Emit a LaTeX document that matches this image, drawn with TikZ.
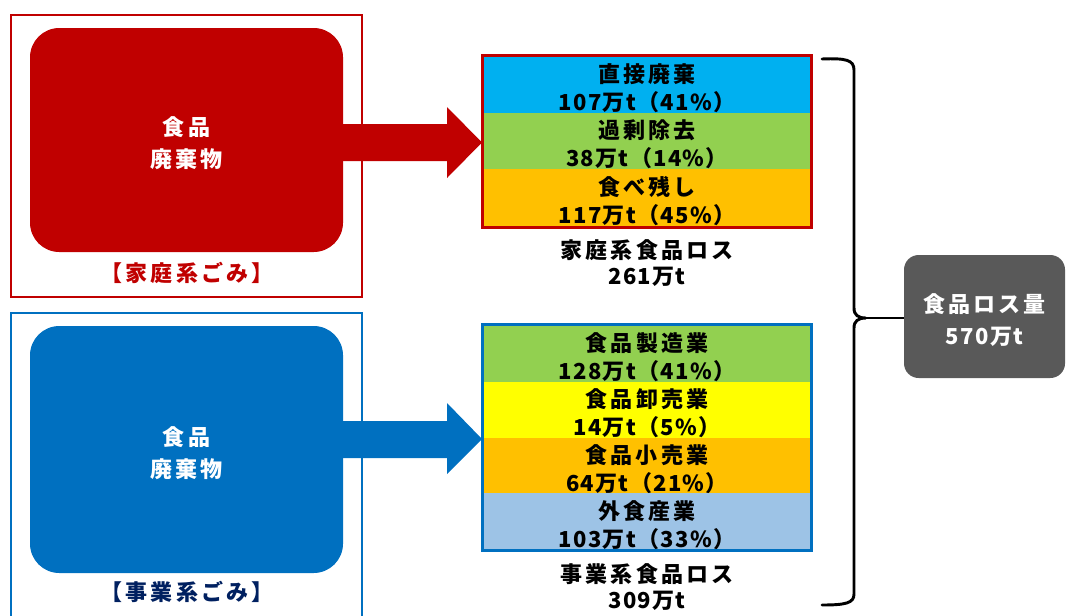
\documentclass[tikz,border=0pt]{standalone}
\usepackage{fontspec}
\newfontfamily\jk{Noto Sans CJK JP}[LetterSpace=14]
\newfontfamily\jn{Noto Sans CJK JP}[LetterSpace=6]
\definecolor{cRed}{HTML}{C00000}
\definecolor{cBlue}{HTML}{0070C0}
\definecolor{cGrey}{HTML}{595959}
\definecolor{cNavy}{HTML}{002060}
\definecolor{cCyan}{HTML}{00B0F0}
\definecolor{cGreen}{HTML}{92D050}
\definecolor{cOrange}{HTML}{FFC000}
\definecolor{cYellow}{HTML}{FFFF00}
\definecolor{cLight}{HTML}{9DC3E6}
\tikzset{
  jtxt/.style={font=\fontsize{16.5pt}{21pt}\selectfont\bfseries, align=center, inner sep=0pt},
  rowtxt/.style={jtxt, text=black, yshift=-2.5pt},
  rowbox/.style={draw=none, minimum width=246pt, inner sep=0pt},
  bigbox/.style={rounded corners=22pt, minimum width=234.75pt, inner sep=0pt},
  bigtxt/.style={jtxt, text=white, font=\fontsize{16.5pt}{24pt}\selectfont\bfseries, yshift=-2.5pt},
  frame/.style={line width=1.9pt},
}
\begin{document}
\begin{tikzpicture}[x=0.75pt,y=-0.75pt]
\useasboundingbox (0,0) rectangle (1066,615);
\clip (0,0) rectangle (1066,615);
% left frames
\draw[frame, cRed] (11,15) rectangle (362,297);
\draw[frame, cBlue] (11,313) rectangle (362,640);
% big boxes
\node[bigbox, fill=cRed, minimum height=168pt, label={[bigtxt]center:{{\jk 食品}\\{\jk 廃棄物}}}] (rb) at (186.5,140) {};
\node[bigbox, fill=cBlue, minimum height=185.25pt, label={[bigtxt]center:{{\jk 食品}\\{\jk 廃棄物}}}] (bb) at (186.5,449.5) {};
\node[jtxt, text=cRed] (rl) at (187,273) {\jk 【家庭系ごみ】};
\node[jtxt, text=cNavy] (bl) at (187,592) {\jk 【事業系ごみ】};
% arrows
\fill[cRed] (343,124) -- (447,124) -- (447,107) -- (482,142.5) -- (447,178) -- (447,161) -- (343,161) -- cycle;
\fill[cBlue] (343,421) -- (447,421) -- (447,403) -- (482,439) -- (447,474) -- (447,458) -- (343,458) -- cycle;
% household rows
\node[rowbox, fill=cCyan, minimum height=42.75pt, label={[rowtxt]center:{{\jk 直接廃棄}\\{\jn 107万t（41\%）}}}] (h1) at (647,84.5) {};
\node[rowbox, fill=cGreen, minimum height=42pt, label={[rowtxt]center:{{\jk 過剰除去}\\{\jn 38万t（14\%）}}}] (h2) at (647,141) {};
\node[rowbox, fill=cOrange, minimum height=43.5pt, label={[rowtxt]center:{{\jk 食べ残し}\\{\jn 117万t（45\%）}}}] (h3) at (647,198) {};
\draw[cRed, line width=2.2pt] (h1.north west) rectangle (h3.south east);
\node[jtxt, font=\fontsize{16.5pt}{19.5pt}\selectfont\bfseries] (hl) at (647,263) {{\jk 家庭系食品ロス}\\{\jn 261万t}};
% business rows
\node[rowbox, fill=cGreen, minimum height=42.75pt, label={[rowtxt]center:{{\jk 食品製造業}\\{\jn 128万t（41\%）}}}] (b1) at (647,353.5) {};
\node[rowbox, fill=cYellow, minimum height=42pt, label={[rowtxt]center:{{\jk 食品卸売業}\\{\jn 14万t（5\%）}}}] (b2) at (647,410) {};
\node[rowbox, fill=cOrange, minimum height=41.25pt, label={[rowtxt]center:{{\jk 食品小売業}\\{\jn 64万t（21\%）}}}] (b3) at (647,465.5) {};
\node[rowbox, fill=cLight, minimum height=42.75pt, label={[rowtxt]center:{{\jk 外食産業}\\{\jn 103万t（33\%）}}}] (b4) at (647,521.5) {};
\draw[cBlue, line width=2.2pt] (b1.north west) rectangle (b4.south east);
\node[jtxt, font=\fontsize{16.5pt}{19.5pt}\selectfont\bfseries] (bl2) at (647,587) {{\jk 事業系食品ロス}\\{\jn 309万t}};
% total box
\node[bigbox, fill=cGrey, rounded corners=11pt, minimum width=120.75pt, minimum height=92.25pt, label={[bigtxt]center:{{\jk 食品ロス量}\\{\jn 570万t}}}] (tot) at (984.5,316.5) {};
% brace
\draw[line width=2.2pt, line cap=round] (822,59) .. controls (846,58) and (854,60) .. (854,70) -- (854,308)
  .. controls (854,315) and (858,318) .. (866,318) coordinate (cusp)
  .. controls (858,318) and (854,321) .. (854,328) -- (854,594)
  .. controls (854,603) and (846,605) .. (822,605);
\draw[line width=2.2pt] (cusp) -- (tot.west |- cusp);
\end{tikzpicture}
\end{document}
